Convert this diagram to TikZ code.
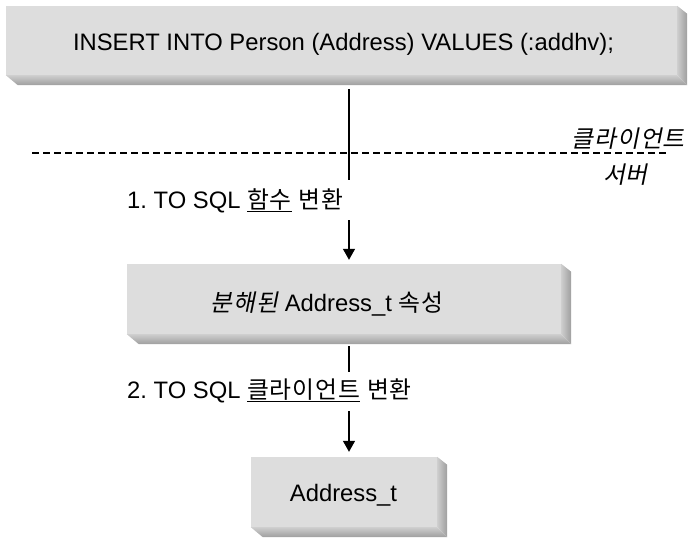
\documentclass[tikz,border=0pt]{standalone}
\usepackage{fontspec}
\setmainfont{Liberation Sans}
\newfontfamily\kr[LetterSpace=4]{Noto Sans CJK KR}
\newfontfamily\krit[LetterSpace=4,FakeSlant=0.2]{Noto Sans CJK KR}
\usetikzlibrary{arrows.meta}
\definecolor{facegray}{RGB}{221,221,221}
\definecolor{bevlight}{RGB}{206,206,206}
\definecolor{bevdark}{RGB}{158,158,158}
\frenchspacing
\newcommand\mybevel[1]{%
  \shade[top color=bevlight,bottom color=bevdark]
    (#1.south west) -- (#1.south east) -- ([shift={(10,10)}]#1.south east)
    -- ([shift={(12,10)}]#1.south west) -- cycle;
  \shade[left color=bevlight,right color=bevdark]
    (#1.north east) -- ([shift={(10,8)}]#1.north east)
    -- ([shift={(10,10)}]#1.south east) -- (#1.south east) -- cycle;}
\begin{document}
\begin{tikzpicture}[x=1pt,y=-1pt,
  face/.style={fill=facegray,draw=none,inner sep=0pt},
  txt/.style={inner sep=0pt,font=\fontsize{23.8}{28}\selectfont},
  conn/.style={line width=1.4pt,draw=black},
  arr/.style={conn,-{Triangle[width=12pt,length=11pt]}}]
\useasboundingbox (0,0) rectangle (688,538);
% boxes
\node[face,minimum width=671pt,minimum height=69pt] (top) at (341.5,40.5) {};
\node[face,minimum width=434pt,minimum height=70pt] (mid) at (344,299) {};
\node[face,minimum width=186pt,minimum height=70pt] (bot) at (344,492) {};
\mybevel{top}
\mybevel{mid}
\mybevel{bot}
% box texts
\node[txt,anchor=base] (toptext) at (343.5,50) {INSERT INTO Person (Address) VALUES (:addhv);};
\node[txt,anchor=base] (midtext) at (327,311) {{\krit 분해된} Address\_t {\kr 속성}};
\node[txt,anchor=base] (bottext) at (343.5,501) {Address\_t};
% client / server separator
\coordinate (dl) at (32,153);
\coordinate (dr) at (667,153);
\draw[line width=1.2pt,dash pattern=on 7pt off 4pt] (dl) -- (dr);
\node[txt,anchor=base east] (client) at (685,147) {\krit 클라이언트};
\node[txt,anchor=base east] (server) at (648,183) {\krit 서버};
% step labels
\node[txt,anchor=base west] (lab1) at (127,208) {1. TO SQL \underline{\kr 함수} {\kr 변환}};
\node[txt,anchor=base west] (lab2) at (127,398) {2. TO SQL \underline{\kr 클라이언트} {\kr 변환}};
% connectors
\coordinate (axis) at (349,0);
\coordinate (b1) at (349,180);
\coordinate (s1) at (349,220);
\coordinate (b2) at (349,372);
\coordinate (s2) at (349,411);
\draw[conn,shorten <=14pt] (top.south -| axis) -- (b1);
\draw[arr,shorten >=4pt] (s1) -- (mid.north -| axis);
\draw[conn,shorten <=12pt] (mid.south -| axis) -- (b2);
\draw[arr,shorten >=5pt] (s2) -- (bot.north -| axis);
\end{tikzpicture}
\end{document}
